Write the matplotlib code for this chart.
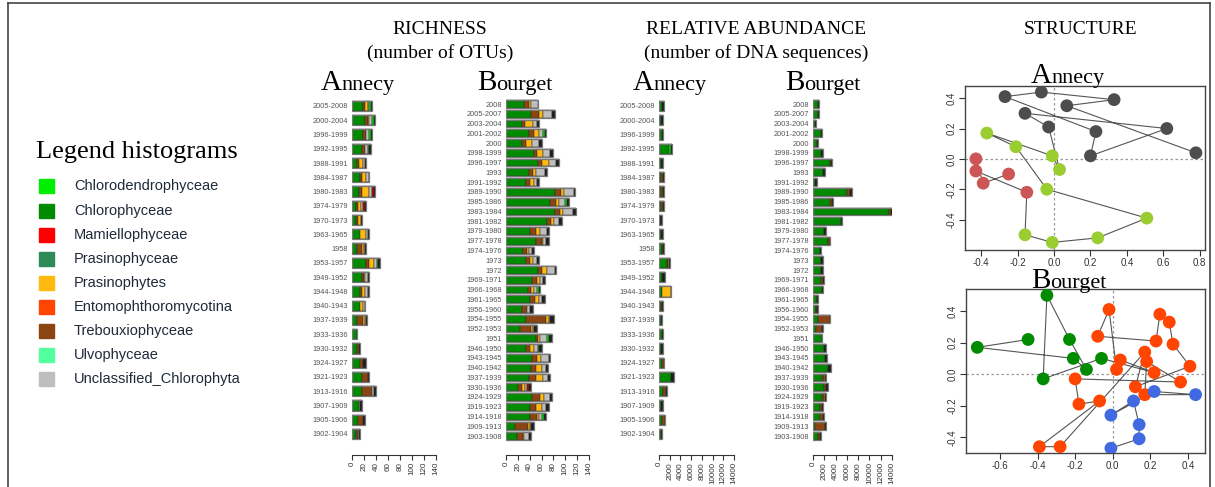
import matplotlib
matplotlib.use('Agg')
import matplotlib.pyplot as plt
import matplotlib.patches as mpatches
from matplotlib.lines import Line2D
from matplotlib.ticker import FormatStrFormatter
import numpy as np

plt.rcParams['axes.unicode_minus'] = False
plt.rcParams['font.family'] = ['Liberation Sans', 'DejaVu Sans']

# colours of the taxa (legend order)
legend_names = ['Chlorodendrophyceae', 'Chlorophyceae', 'Mamiellophyceae', 'Prasinophyceae',
                'Prasinophytes', 'Entomophthoromycotina', 'Trebouxiophyceae', 'Ulvophyceae',
                'Unclassified_Chlorophyta']
legend_colors = ['#00EE00', '#008B00', '#FF0000', '#2E8B57', '#FFB90F', '#FF4500',
                 '#8B4513', '#54FF9F', '#BEBEBE']
c_chloro, c_treb, c_pras, c_uncl, c_lime, c_red, c_dark = (
    '#008B00', '#8B4513', '#FFB90F', '#BEBEBE', '#00EE00', '#CC0000', '#1E1E1E')

# ---------------- Annecy (24 samples) ----------------
ann_labels = ['2005-2008', '2000-2004', '1996-1999', '1992-1995', '1988-1991', '1984-1987',
              '1980-1983', '1974-1979', '1970-1973', '1963-1965', '1958', '1953-1957',
              '1949-1952', '1944-1948', '1940-1943', '1937-1939', '1933-1936', '1930-1932',
              '1924-1927', '1921-1923', '1913-1916', '1907-1909', '1905-1906', '1902-1904']
# richness (number of OTUs)
ann_rich_chloro = [19, 21, 19, 17, 8, 13, 11, 6, 6, 14, 9, 23, 16, 14, 13, 9, 8, 9, 14, 16, 16, 11, 10, 7]
ann_rich_treb = [3, 5, 4, 4, 3, 4, 5, 4, 4, 0, 8, 6, 4, 3, 0, 10, 0, 2, 4, 11, 17, 0, 8, 3]
ann_rich_pras = [5, 3, 0, 0, 7, 7, 12, 5, 5, 10, 3, 7, 2, 5, 6, 2, 0, 0, 0, 0, 0, 0, 0, 0]
ann_rich_uncl = [2, 5, 5, 5, 3, 4, 5, 4, 0, 3, 2, 6, 5, 4, 2, 3, 0, 0, 0, 0, 4, 3, 0, 2]
ann_rich_lime = [3, 3, 4, 3, 0, 0, 0, 0, 0, 0, 0, 2, 0, 0, 0, 0, 0, 0, 0, 0, 0, 0, 0, 0]
ann_rich_red = [0, 0, 0, 0, 0, 0, 3, 3, 0, 0, 0, 0, 0, 0, 0, 0, 0, 0, 0, 0, 0, 0, 0, 0]
ann_rich_dark = [2, 2, 2, 3, 2, 1, 3, 2, 2, 2, 2, 3, 2, 2, 1, 1, 1, 3, 5, 1, 3, 3, 3, 2]
# abundance (number of DNA sequences)
ann_abd_chloro = [600, 400, 500, 1800, 450, 350, 450, 300, 200, 450, 500, 1500,
                  600, 500, 450, 300, 650, 400, 600, 2300, 800, 450, 650, 350]
ann_abd_treb = [0, 0, 0, 0, 0, 350, 300, 500, 0, 0, 300, 250,
                0, 0, 200, 0, 0, 0, 300, 0, 550, 0, 440, 0]
ann_abd_pras = [0, 0, 0, 0, 0, 0, 0, 0, 0, 0, 0, 150,
                0, 1750, 0, 0, 0, 0, 0, 0, 0, 0, 0, 0]
ann_abd_lime = [0, 0, 0, 490, 0, 0, 0, 0, 0, 0, 0, 0,
                0, 0, 0, 0, 0, 0, 0, 0, 0, 0, 0, 0]
ann_abd_dark = [340, 350, 250, 150, 300, 170, 190, 140, 300, 240, 140, 160,
                460, 60, 100, 325, 100, 290, 100, 450, 150, 300, 100, 150]

# ---------------- Bourget (35 samples) ----------------
bou_labels = ['2008', '2005-2007', '2003-2004', '2001-2002', '2000', '1998-1999', '1996-1997',
              '1993', '1991-1992', '1989-1990', '1985-1986', '1983-1984', '1981-1982',
              '1979-1980', '1977-1978', '1974-1976', '1973', '1972', '1969-1971', '1966-1968',
              '1961-1965', '1956-1960', '1954-1955', '1952-1953', '1951', '1946-1950',
              '1943-1945', '1940-1942', '1937-1939', '1930-1936', '1924-1929', '1919-1923',
              '1914-1918', '1909-1913', '1903-1908']
bou_rich_chloro = [31, 43, 27, 38, 27, 48, 54, 38, 33, 83, 75, 82, 69, 40, 50, 28, 34, 54,
                   44, 37, 40, 27, 33, 23, 51, 34, 44, 42, 38, 21, 44, 40, 41, 16, 19]
bou_rich_treb = [7, 12, 5, 9, 6, 5, 7, 8, 7, 10, 10, 9, 7, 10, 10, 7, 6, 7,
                 9, 6, 9, 8, 35, 19, 3, 6, 9, 9, 12, 6, 13, 11, 11, 21, 10]
bou_rich_pras = [5, 8, 13, 8, 11, 10, 11, 5, 8, 5, 5, 5, 5, 7, 3, 3, 5, 8,
                 4, 5, 7, 0, 4, 3, 3, 7, 6, 9, 12, 5, 7, 9, 4, 3, 2]
bou_rich_uncl = [11, 14, 8, 8, 11, 11, 13, 15, 4, 17, 10, 17, 9, 12, 5, 6, 7, 14,
                 5, 5, 5, 6, 3, 3, 12, 7, 13, 7, 9, 3, 10, 8, 5, 3, 7]
bou_rich_lime = [0, 0, 0, 2, 0, 0, 0, 0, 0, 0, 3, 0, 0, 0, 0, 0, 0, 0,
                 0, 2, 0, 0, 0, 0, 4, 2, 0, 0, 0, 0, 0, 0, 3, 0, 0]
bou_rich_red = [0, 0, 0, 0, 0, 0, 0, 0, 0, 0, 0, 0, 0, 0, 0, 0, 0, 0,
                0, 0, 0, 0, 0, 0, 0, 0, 0, 0, 0, 3, 0, 0, 0, 0, 0]
bou_rich_dark = [0, 5, 2, 2, 5, 5, 5, 3, 3, 1, 4, 5, 5, 4, 5, 4, 4, 2,
                 4, 2, 4, 5, 6, 4, 4, 4, 3, 3, 4, 5, 4, 5, 4, 4, 4]
bou_abd_chloro = [900, 950, 300, 1400, 700, 1450, 2950, 1750, 400, 6100, 3100, 13400,
                  4900, 1900, 2600, 1200, 1400, 1500, 1350, 1600, 750, 500, 900, 600,
                  1550, 1950, 2100, 2700, 1650, 1900, 1600, 1200, 1300, 300, 900]
bou_abd_treb = [0, 0, 0, 0, 0, 0, 250, 0, 0, 500, 250, 500,
                0, 0, 350, 0, 0, 0, 350, 0, 0, 250, 2100, 1000,
                0, 0, 0, 0, 250, 400, 300, 350, 400, 1900, 400]
bou_abd_pras = [0, 0, 0, 0, 0, 0, 0, 0, 0, 0, 0, 0,
                0, 0, 0, 0, 0, 0, 0, 0, 0, 0, 0, 0,
                0, 0, 0, 0, 250, 0, 200, 0, 0, 0, 0]
bou_abd_dark = [220, 170, 170, 200, 130, 320, 170, 320, 250, 370, 190, 340,
                240, 460, 120, 160, 310, 270, 190, 170, 140, 140, 70, 110,
                100, 350, 380, 550, 210, 300, 200, 220, 190, 100, 180]

# ---------------- NMDS structure ----------------
ann_nmds_x = [0.78, 0.07, 0.33, -0.07, -0.27, 0.23, 0.20, 0.62, -0.16, -0.03,
              0.03, -0.01, -0.37, -0.21, -0.04, 0.51, 0.24, -0.01, -0.16,
              -0.15, -0.43, -0.43, -0.39, -0.25]
ann_nmds_y = [0.04, 0.35, 0.39, 0.44, 0.41, 0.18, 0.02, 0.20, 0.30, 0.21,
              -0.07, 0.02, 0.17, 0.08, -0.20, -0.39, -0.52, -0.55, -0.50,
              -0.22, -0.08, 0.00, -0.16, -0.10]
ann_groups = [0] * 10 + [1] * 9 + [2] * 5
ann_group_colors = ['#4D4D4D', '#9ACD32', '#CD5555']

bou_nmds_x = [-0.45, -0.72, -0.21, -0.14, -0.23, -0.35, -0.37, -0.06,
              0.22, 0.04, 0.02, -0.02, -0.08, 0.23, 0.25, 0.30, 0.32, 0.41, 0.12, 0.17,
              -0.28, -0.39, -0.07, -0.18, -0.20, 0.36, 0.18, 0.17,
              0.44, 0.22, -0.01, 0.11, 0.14, 0.14, -0.01]
bou_nmds_y = [0.22, 0.17, 0.10, 0.03, 0.22, 0.50, -0.03, 0.10,
              0.01, 0.09, 0.03, 0.41, 0.24, 0.21, 0.38, 0.33, 0.19, 0.05, -0.08, 0.14,
              -0.46, -0.46, -0.17, -0.19, -0.03, -0.05, 0.08, -0.13,
              -0.13, -0.11, -0.26, -0.17, -0.32, -0.41, -0.47]
bou_groups = [0] * 8 + [1] * 20 + [2] * 7
bou_group_colors = ['#008B00', '#FF4500', '#4169E1']

W, H = 1215, 487
fig = plt.figure(figsize=(W / 100, H / 100), dpi=100)
fig.patch.set_facecolor('white')


def fx(px):
    return px / W


def fy(py):
    return 1 - py / H


def bar_panel(x0, x1, row_top, row_bot, xmax, xticks, labels, segs, bar_h):
    n = len(labels)
    p = (row_bot - row_top) / (n - 1)
    ax_top, ax_bot = 96, 455
    ax = fig.add_axes([fx(x0), fy(ax_bot), (x1 - x0) / W, (ax_bot - ax_top) / H])
    y = -np.arange(n)
    left = np.zeros(n)
    for vals, col in segs:
        vals = np.asarray(vals, float)
        m = vals > 0
        ax.barh(y[m], vals[m], left=left[m], height=bar_h, color=col,
                edgecolor='#2a2a2a', linewidth=0.35)
        left += vals
    # grey frame around each bar
    ax.barh(y, left, height=bar_h, fill=False, edgecolor='#777777', linewidth=0.9)
    ax.set_ylim(-(ax_bot - row_top) / p, (row_top - ax_top) / p)
    ax.set_xlim(0, xmax)
    ax.set_xticks(xticks)
    ax.set_xticklabels([str(t) for t in xticks])
    ax.tick_params(axis='x', direction='out', length=3.5, width=0.8, labelsize=5.8,
                   labelrotation=90, colors='#333333', pad=1.5)
    ax.set_yticks(y)
    ax.set_yticklabels(labels, fontsize=5.3, color='#555555')
    ax.tick_params(axis='y', length=0, pad=3)
    for s in ['top', 'right', 'left']:
        ax.spines[s].set_visible(False)
    ax.spines['bottom'].set_color('#333333')
    ax.spines['bottom'].set_linewidth(0.8)
    ax.set_facecolor('none')
    return ax


rich_ticks = list(range(0, 141, 20))
abd_ticks = list(range(0, 14001, 2000))

bar_panel(352, 436, 106, 434, 140, rich_ticks, ann_labels,
          [(ann_rich_chloro, c_chloro), (ann_rich_treb, c_treb), (ann_rich_pras, c_pras),
           (ann_rich_uncl, c_uncl), (ann_rich_lime, c_lime), (ann_rich_red, c_red),
           (ann_rich_dark, c_dark)], 0.72)
bar_panel(506, 589, 104, 436, 140, rich_ticks, bou_labels,
          [(bou_rich_chloro, c_chloro), (bou_rich_treb, c_treb), (bou_rich_pras, c_pras),
           (bou_rich_uncl, c_uncl), (bou_rich_lime, c_lime), (bou_rich_red, c_red),
           (bou_rich_dark, c_dark)], 0.8)
bar_panel(659, 734, 106, 434, 14000, abd_ticks, ann_labels,
          [(ann_abd_chloro, c_chloro), (ann_abd_treb, c_treb), (ann_abd_pras, c_pras),
           (ann_abd_lime, c_lime), (ann_abd_dark, c_dark)], 0.72)
bar_panel(813, 892, 104, 436, 14000, abd_ticks, bou_labels,
          [(bou_abd_chloro, c_chloro), (bou_abd_treb, c_treb), (bou_abd_pras, c_pras),
           (bou_abd_dark, c_dark)], 0.8)


def nmds_panel(x0, x1, top, bot, xs, ys, groups, gcols, xlim, ylim, xticks, yticks):
    ax = fig.add_axes([fx(x0), fy(bot), (x1 - x0) / W, (bot - top) / H])
    ax.axhline(0, color='#999999', ls=(0, (2, 2)), lw=0.9, zorder=1)
    ax.axvline(0, color='#999999', ls=(0, (2, 2)), lw=0.9, zorder=1)
    ax.plot(xs, ys, color='#555555', lw=0.8, zorder=2)
    ax.scatter(xs, ys, s=85, c=[gcols[g] for g in groups], edgecolors='none', zorder=3)
    ax.set_xlim(*xlim)
    ax.set_ylim(*ylim)
    ax.set_xticks(xticks)
    ax.set_yticks(yticks)
    ax.xaxis.set_major_formatter(FormatStrFormatter('%.1f'))
    ax.yaxis.set_major_formatter(FormatStrFormatter('%.1f'))
    ax.tick_params(direction='out', length=4, width=0.8, labelsize=7,
                   colors='#333333', pad=2)
    for lab in ax.get_yticklabels():
        lab.set_rotation(90)
        lab.set_va('center')
    for s in ax.spines.values():
        s.set_color('#444444')
        s.set_linewidth(1.0)
    return ax


nmds_panel(965, 1205, 86, 250, ann_nmds_x, ann_nmds_y, ann_groups, ann_group_colors,
           (-0.49, 0.83), (-0.60, 0.48), [-0.4, -0.2, 0.0, 0.2, 0.4, 0.6, 0.8],
           [-0.4, -0.2, 0.0, 0.2, 0.4])
nmds_panel(966, 1205, 289, 453, bou_nmds_x, bou_nmds_y, bou_groups, bou_group_colors,
           (-0.78, 0.49), (-0.50, 0.54), [-0.6, -0.4, -0.2, 0.0, 0.2, 0.4],
           [-0.4, -0.2, 0.0, 0.2, 0.4])

# ---------------- titles ----------------
serif = 'Liberation Serif'
fig.text(fx(440), fy(30), 'RICHNESS', family=serif, size=14, ha='center', va='center')
fig.text(fx(440), fy(53), '(number of OTUs)', family=serif, size=14, ha='center', va='center')
fig.text(fx(756), fy(30), 'RELATIVE ABUNDANCE', family=serif, size=14, ha='center', va='center')
fig.text(fx(756), fy(53), '(number of DNA sequences)', family=serif, size=14,
         ha='center', va='center')
fig.text(fx(1081), fy(30), 'STRUCTURE', family=serif, size=14, ha='center', va='center')

renderer = fig.canvas.get_renderer()


def cap_title(xc, ybase, word, big=21, small=16):
    t1 = fig.text(0, 0, word[0], family=serif, size=big, ha='left', va='baseline')
    t2 = fig.text(0, 0, word[1:], family=serif, size=small, ha='left', va='baseline')
    w1 = t1.get_window_extent(renderer).width
    w2 = t2.get_window_extent(renderer).width
    start = xc - (w1 + w2) / 2
    t1.set_position((fx(start), fy(ybase)))
    t2.set_position((fx(start + w1), fy(ybase)))


cap_title(358, 90, 'Annecy')
cap_title(515, 90, 'Bourget')
cap_title(670, 90, 'Annecy')
cap_title(823, 90, 'Bourget')
cap_title(1068, 83, 'Annecy')
cap_title(1069, 288, 'Bourget')

# ---------------- legend ----------------
fig.text(fx(36), fy(152), 'Legend histograms', family=serif, size=19, ha='left', va='center')
leg_y = [186, 211, 235, 259, 283, 307, 331, 355, 379]
for name, col, yy in zip(legend_names, legend_colors, leg_y):
    fig.add_artist(mpatches.Rectangle((fx(39), fy(yy + 7)), 15 / W, 14 / H, color=col,
                                      transform=fig.transFigure))
    fig.text(fx(74), fy(yy), name, size=10.5, color='#1F2A3A', ha='left', va='center')

# ---------------- frame ----------------
for xs_, ys_ in [([8, 1210], [3, 3]), ([8, 8], [3, 487]), ([1210, 1210], [3, 487])]:
    fig.add_artist(Line2D([fx(v) for v in xs_], [fy(v) for v in ys_],
                          transform=fig.transFigure, color='#444444', lw=1.2))

fig.savefig('out.png', dpi=100)
